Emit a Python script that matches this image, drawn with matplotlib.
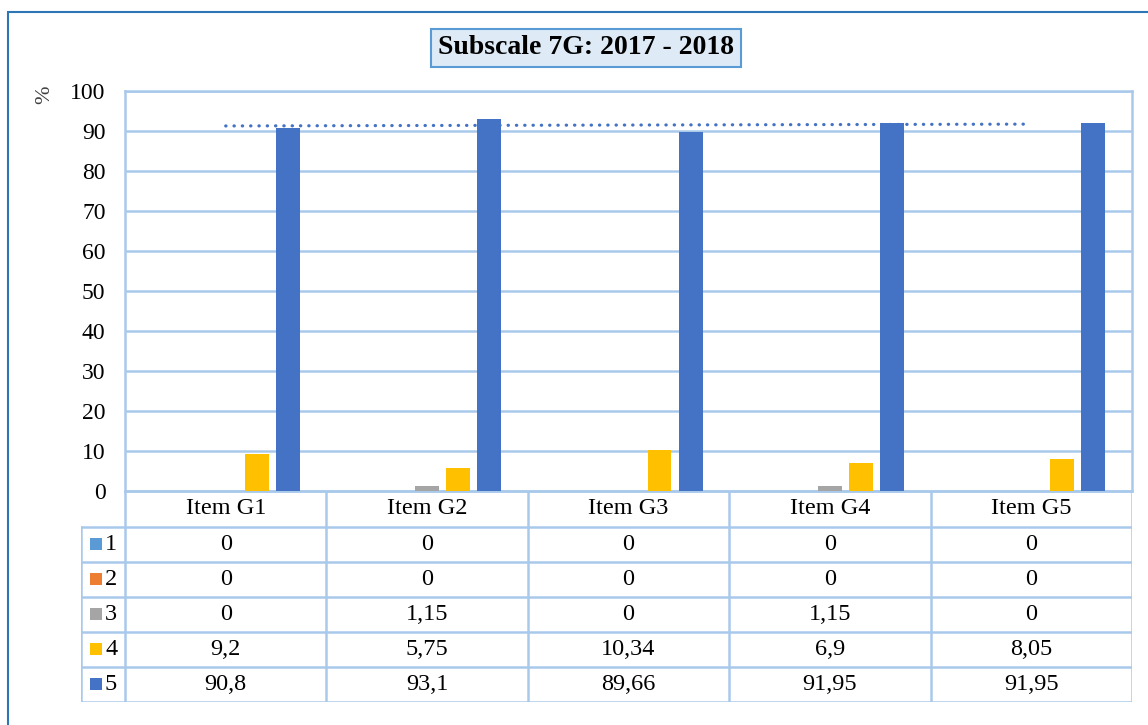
import numpy as np
import matplotlib
matplotlib.use("Agg")
import matplotlib.pyplot as plt
from matplotlib.patches import Rectangle

plt.rcParams['font.family'] = ['Liberation Serif', 'DejaVu Serif']

items = ["Item G1", "Item G2", "Item G3", "Item G4", "Item G5"]
series_names = ["1", "2", "3", "4", "5"]
s1 = [0, 0, 0, 0, 0]
s2 = [0, 0, 0, 0, 0]
s3 = [0, 1.15, 0, 1.15, 0]
s4 = [9.2, 5.75, 10.34, 6.9, 8.05]
s5 = [90.8, 93.1, 89.66, 91.95, 91.95]
values = [s1, s2, s3, s4, s5]
colors = ["#5B9BD5", "#ED7D31", "#A5A5A5", "#FFC000", "#4472C4"]
title = "Subscale 7G: 2017 - 2018"

W, H = 1148, 725
grid_c = "#A9C9EA"

fig = plt.figure(figsize=(W / 100, H / 100), dpi=100)

def frac(x0, y0, x1, y1):
    # pixel box -> figure fraction rect
    return [x0 / W, 1 - y1 / H, (x1 - x0) / W, (y1 - y0) / H]

# outer chart frame
fig.patches.append(Rectangle((8 / W, -0.05), 1.2, 1 - 12 / H + 0.05, transform=fig.transFigure,
                             fill=False, edgecolor="#2E75B6", linewidth=1.5))

# main plot
ax = fig.add_axes(frac(125, 91, 1132, 491))
n = len(items)
x = np.arange(n) + 0.5
step = 0.154
bw = 0.119
for k, (vals, c) in enumerate(zip(values, colors)):
    ax.bar(x + (k - 2) * step, vals, width=bw, color=c, zorder=3)

# linear trendline for series 5
coef = np.polyfit(np.arange(1, n + 1), s5, 1)
xt = np.array([1, n])
ax.plot(x[[0, -1]], np.polyval(coef, xt), color="#4472C4", linewidth=2.3,
        linestyle=(0, (0.1, 2.5)), dash_capstyle="round", zorder=4)

ax.set_xlim(0, n)
ax.set_ylim(0, 100)
ax.set_yticks(range(0, 101, 10))
ax.set_xticks([])
ax.tick_params(axis="y", length=0, labelsize=17, pad=14)
ax.grid(axis="y", color=grid_c, linewidth=1.8, zorder=0)
for sp in ax.spines.values():
    sp.set_color(grid_c)
    sp.set_linewidth(1.8)
fig.text(45 / W, 1 - 95 / H, "%", rotation=90, fontsize=16, color="#404040",
         ha="center", va="center")

# title box
fig.text(586 / W, 1 - 48 / H, title, fontsize=20, fontweight="bold", ha="center", va="center",
         bbox=dict(boxstyle="square,pad=0.25", facecolor="#DEEBF7", edgecolor="#5B9BD5", linewidth=1.5))

# data table
left_w = 44 / 201.4
tab = fig.add_axes(frac(81, 491, 1132, 702))
tab.set_xlim(-left_w, n)
tab.set_ylim(702, 491)
tab.axis("off")
row_y = [491, 527, 562, 597, 632, 667, 702]
lw = 1.8
fs = 17.5
# horizontal lines
tab.plot([0, n], [row_y[0]] * 2, color=grid_c, lw=lw)
for yy in row_y[1:]:
    tab.plot([-left_w, n], [yy, yy], color=grid_c, lw=lw)
# vertical lines
tab.plot([-left_w, -left_w], [row_y[1], row_y[-1]], color=grid_c, lw=lw)
for i in range(n + 1):
    tab.plot([i, i], [row_y[0], row_y[-1]], color=grid_c, lw=lw)

for i, name in enumerate(items):
    tab.text(i + 0.5, (row_y[0] + row_y[1]) / 2, name, ha="center", va="center", fontsize=fs)

sq = 12
for r, (name, vals, c) in enumerate(zip(series_names, values, colors)):
    yc = (row_y[r + 1] + row_y[r + 2]) / 2
    tab.add_patch(Rectangle((-left_w + 9 / 201.4, yc - sq / 2), sq / 201.4, sq,
                            facecolor=c, edgecolor="none"))
    tab.text(-left_w + 24 / 201.4, yc, name, ha="left", va="center", fontsize=fs)
    for i, v in enumerate(vals):
        tab.text(i + 0.5, yc, "{:g}".format(v).replace(".", ","), ha="center", va="center", fontsize=fs)

fig.savefig("out.png", dpi=100)
